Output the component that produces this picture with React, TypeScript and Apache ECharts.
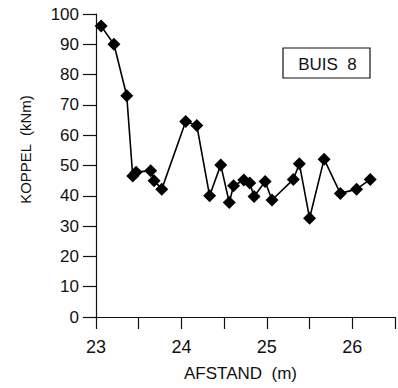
import React, { useEffect, useRef } from "react";
import * as echarts from "echarts";

const afstand = [23.06, 23.21, 23.36, 23.43, 23.47, 23.64, 23.68, 23.77, 24.05, 24.18, 24.33, 24.46, 24.56, 24.61, 24.73, 24.8, 24.85, 24.98, 25.06, 25.31, 25.38, 25.5, 25.67, 25.86, 26.05, 26.21];
const koppel = [96, 90, 73, 46.5, 47.8, 48.3, 45, 42.2, 64.5, 63.2, 40, 50.2, 37.8, 43.3, 45.2, 44.2, 39.8, 44.7, 38.6, 45.4, 50.6, 32.6, 52.1, 40.8, 42.2, 45.4];
const label = "BUIS  8";
const xName = "AFSTAND  (m)";
const yName = "KOPPEL  (kNm)";

export default function App() {
  const ref = useRef<HTMLDivElement>(null);
  useEffect(() => {
    const chart = echarts.init(ref.current!, null, { renderer: "svg" });
    const font = "Liberation Sans, Arial, sans-serif";
    chart.setOption({
      animation: false,
      backgroundColor: "#fff",
      grid: { left: 96, right: 1, top: 14, bottom: 71 },
      xAxis: {
        type: "value",
        min: 23,
        max: 26.5,
        interval: 0.5,
        name: xName,
        nameLocation: "middle",
        nameGap: 48,
        nameTextStyle: { color: "#111", fontSize: 17, fontFamily: font, padding: [0, 10, 0, 0] },
        axisLine: { lineStyle: { color: "#111", width: 1.2 } },
        axisTick: { length: 12, lineStyle: { color: "#111", width: 1.2 } },
        axisLabel: {
          color: "#111",
          fontSize: 18,
          fontFamily: font,
          margin: 21,
          formatter: (v: number) => (Math.abs(v - Math.round(v)) < 1e-6 ? String(Math.round(v)) : ""),
        },
        splitLine: { show: false },
      },
      yAxis: {
        type: "value",
        min: 0,
        max: 100,
        interval: 10,
        name: yName,
        nameLocation: "middle",
        nameGap: 63,
        nameRotate: 90,
        nameTextStyle: { color: "#111", fontSize: 15, fontFamily: font, padding: [0, 0, 0, 32] },
        axisLine: { show: true, lineStyle: { color: "#111", width: 1.2 } },
        axisTick: { show: true, length: 13, lineStyle: { color: "#111", width: 1.2 } },
        axisLabel: { color: "#111", fontSize: 17, fontFamily: font, margin: 17 },
        splitLine: { show: false },
      },
      series: [
        {
          type: "line",
          data: afstand.map((x, i) => [x, koppel[i]]),
          symbol: "diamond",
          symbolSize: 13,
          itemStyle: { color: "#000" },
          lineStyle: { color: "#000", width: 1.6 },
        },
      ],
      graphic: [
        {
          type: "rect",
          shape: { x: 283, y: 48, width: 87, height: 30 },
          style: { fill: "#fff", stroke: "#111", lineWidth: 1.2 },
        },
        {
          type: "text",
          x: 327.5,
          y: 64,
          style: {
            text: label,
            fontSize: 17,
            fontFamily: font,
            fill: "#111",
            align: "center",
            verticalAlign: "middle",
          },
        },
      ],
    });
    return () => chart.dispose();
  }, []);
  return <div ref={ref} style={{ width: 398, height: 388, position: "absolute", left: 0, top: 0 }} />;
}
